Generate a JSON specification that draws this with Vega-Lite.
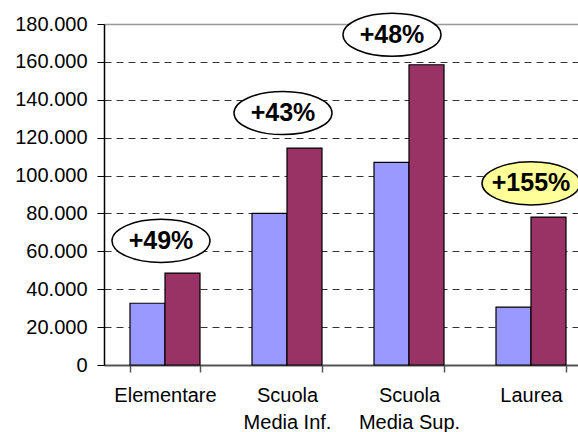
{
  "$schema": "https://vega.github.io/schema/vega-lite/v6.json",
  "width": 474,
  "height": 341,
  "autosize": {"type": "none"},
  "padding": {"left": 104, "top": 24, "right": 0, "bottom": 67},
  "background": "white",
  "config": {"view": {"stroke": null}, "font": "Liberation Sans"},
  "datasets": {
    "iscritti": [
      {"titolo": "Elementare", "periodo": "inizio", "valore": 32600},
      {"titolo": "Elementare", "periodo": "fine", "valore": 48500},
      {"titolo": "Scuola Media Inf.", "periodo": "inizio", "valore": 80000},
      {"titolo": "Scuola Media Inf.", "periodo": "fine", "valore": 114500},
      {"titolo": "Scuola Media Sup.", "periodo": "inizio", "valore": 107000},
      {"titolo": "Scuola Media Sup.", "periodo": "fine", "valore": 158500},
      {"titolo": "Laurea", "periodo": "inizio", "valore": 30600},
      {"titolo": "Laurea", "periodo": "fine", "valore": 78100}
    ],
    "variazioni": [
      {"titolo": "Elementare", "variazione": "+49%", "valore": 65500},
      {"titolo": "Scuola Media Inf.", "variazione": "+43%", "valore": 133000},
      {"titolo": "Scuola Media Sup.", "variazione": "+48%", "valore": 174300},
      {"titolo": "Laurea", "variazione": "+155%", "valore": 95900}
    ]
  },
  "encoding": {
    "x": {
      "field": "titolo",
      "type": "nominal",
      "sort": null,
      "scale": {"range": [0, 488], "paddingInner": 0.4262, "paddingOuter": 0.2131},
      "axis": {
        "title": null,
        "labelAngle": 0,
        "tickBand": "extent",
        "tickSize": 7,
        "tickColor": "#555555",
        "tickWidth": 1.5,
        "domainColor": "#555555",
        "domainWidth": 2,
        "labelFontSize": 20,
        "labelColor": "black",
        "labelPadding": 13,
        "labelLineHeight": 27,
        "labelOverlap": false,
        "labelExpr": "indexof(datum.label, 'Scuola ') == 0 ? ['Scuola', substring(datum.label, 7)] : datum.label"
      }
    },
    "y": {
      "field": "valore",
      "type": "quantitative",
      "scale": {"domain": [0, 180000], "nice": false},
      "axis": {
        "title": null,
        "values": [0, 20000, 40000, 60000, 80000, 100000, 120000, 140000, 160000, 180000],
        "labelExpr": "replace(format(datum.value, ','), ',', '.')",
        "labelOverlap": false,
        "labelFontSize": 20,
        "labelColor": "black",
        "labelPadding": 10,
        "tickSize": 7,
        "tickColor": "black",
        "tickWidth": 1,
        "domainColor": "black",
        "domainWidth": 1.5,
        "grid": true,
        "gridColor": {"condition": {"test": "datum.value == 180000", "value": "#999999"}, "value": "#333333"},
        "gridDash": {"condition": {"test": "datum.value == 180000", "value": [1, 0]}, "value": [7, 5]},
        "gridWidth": {"condition": {"test": "datum.value == 180000", "value": 1.5}, "value": 1}
      }
    }
  },
  "layer": [
    {
      "data": {"name": "iscritti"},
      "mark": {"type": "bar", "stroke": "black", "strokeWidth": 1.2},
      "encoding": {
        "xOffset": {
          "field": "periodo",
          "sort": ["inizio", "fine"],
          "scale": {"paddingInner": 0, "paddingOuter": 0}
        },
        "color": {
          "field": "periodo",
          "scale": {"domain": ["inizio", "fine"], "range": ["#9999FF", "#993366"]},
          "legend": null
        }
      }
    },
    {
      "data": {"name": "variazioni"},
      "mark": {
        "type": "point",
        "size": 9604,
        "filled": true,
        "opacity": 1,
        "stroke": "black",
        "strokeWidth": 1.5
      },
      "encoding": {
        "shape": {
          "condition": [
            {"test": "datum.variazione == '+48%'", "value": "M -1.347 0 A 1 0.44 0 1 1 0.653 0 A 1 0.44 0 1 1 -1.347 0 Z"},
            {"test": "datum.variazione == '+155%'", "value": "M -1 0 A 1 0.44 0 1 1 1 0 A 1 0.44 0 1 1 -1 0 Z"}
          ],
          "value": "M -1.0816 0 A 1 0.44 0 1 1 0.9184 0 A 1 0.44 0 1 1 -1.0816 0 Z"
        },
        "fill": {"condition": {"test": "datum.variazione == '+155%'", "value": "#FFFF99"}, "value": "white"}
      }
    },
    {
      "data": {"name": "variazioni"},
      "mark": {
        "type": "text",
        "fontSize": 25,
        "fontWeight": "bold",
        "color": "black",
        "align": "center",
        "baseline": "middle",
        "dx": {"expr": "datum.variazione == '+48%' ? -17 : datum.variazione == '+155%' ? 0 : -4"}
      },
      "encoding": {
        "text": {"field": "variazione"}
      }
    }
  ]
}
